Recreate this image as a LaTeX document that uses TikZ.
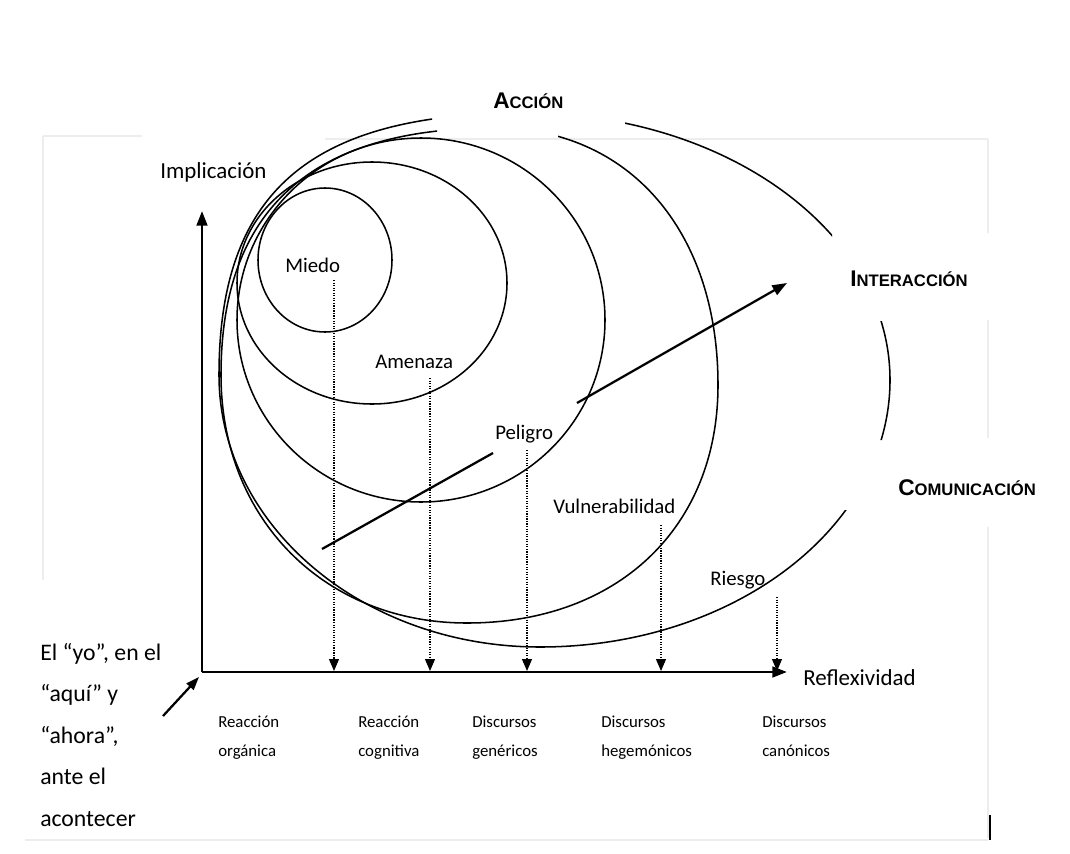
\documentclass[tikz,border=0pt]{standalone}
\usepackage{fontspec}
\setmainfont{Carlito}
\newfontfamily\arialfont{Liberation Sans}
\usetikzlibrary{arrows.meta}
\begin{document}
\begin{tikzpicture}[x=0.75pt,y=-0.75pt,
  curve/.style={line width=1.15pt},
  axisline/.style={line width=2pt,-{Triangle[length=11pt,width=8pt]}},
  dropline/.style={line width=0.9pt,densely dotted,-{Triangle[length=9pt,width=7.5pt]}},
  trend/.style={line width=1.7pt},
  framefaint/.style={line width=1.4pt,black!7},
  lab/.style={inner sep=0pt,anchor=base west,font=\fontsize{15.6}{18}\selectfont},
  biglab/.style={inner sep=0pt,anchor=base west,font=\fontsize{17.2}{20}\selectfont},
  smalllab/.style={inner sep=0pt,anchor=base west,font=\fontsize{12.6}{15}\selectfont},
  sidelab/.style={inner sep=0pt,anchor=base west,font=\fontsize{17.8}{20}\selectfont},
  capslab/.style={inner sep=0pt,anchor=base west,font=\arialfont\bfseries}
]
\useasboundingbox (0,0) rectangle (1070,853);

% faint frame of the original screenshot
\draw[framefaint] (43,136) -- (142,136);
\draw[framefaint] (325,139) -- (988,139);
\draw[framefaint] (43,136) -- (43,580);
\draw[framefaint] (988,139) -- (988,233);
\draw[framefaint] (988,320) -- (988,438);
\draw[framefaint] (988,527) -- (988,838);
\draw[framefaint] (25,840) -- (988,840);
\draw[line width=1.4pt] (990,815) -- (990,840);

% nested regions
\draw[curve] (325,260) ellipse [x radius=67, y radius=72];
\draw[curve] (372,283) ellipse [x radius=135, y radius=121];
\draw[curve] (421,320) ellipse [x radius=184, y radius=182];

% Vulnerabilidad (open at the top)
\coordinate (VL) at (221,375);
\coordinate (VT) at (495,128);
\coordinate (VR) at (718,385);
\coordinate (VB) at (467,623);
\begin{scope}[even odd rule]
  \clip (0,0) rectangle (1070,853) (558,90) rectangle (437,150);
  \draw[curve] (VL) .. controls (221,209.5) and (311.4,128) .. (VT)
                    .. controls (628.8,128) and (718,230.8) .. (VR)
                    .. controls (718,527.8) and (617.6,623) .. (VB)
                    .. controls (324.3,623) and (221,518.8) .. (VL);
\end{scope}

% Riesgo (broken by the three outer labels)
\coordinate (RL) at (219,375);
\coordinate (RT) at (525,113);
\coordinate (RR) at (890,380);
\coordinate (RB) at (540,647);
\begin{scope}[even odd rule]
  \clip (0,0) rectangle (1070,853) (625,60) rectangle (432,127)
        (1000,231) rectangle (832,321) (1000,440) rectangle (842,510);
  \draw[curve] (RL) .. controls (219,191.6) and (310.8,113) .. (RT)
                    .. controls (726.6,113) and (890,232.5) .. (RR)
                    .. controls (890,527.5) and (733.3,647) .. (RB)
                    .. controls (362.7,647) and (219,525.2) .. (RL);
\end{scope}

% axes
\coordinate (O) at (202,672);
\coordinate (ytip) at (202,211);
\coordinate (xtip) at (787,672);
\draw[axisline] (O) -- (ytip);
\draw[axisline] (O) -- (xtip);

% dotted projections
\coordinate (sM) at (334,280);  \coordinate (eM) at (334,671);
\coordinate (sA) at (430,378);  \coordinate (eA) at (430,671);
\coordinate (sP) at (527,450);  \coordinate (eP) at (527,671);
\coordinate (sV) at (661,525);  \coordinate (eV) at (661,671);
\coordinate (sR) at (777,597);  \coordinate (eR) at (777,671);
\draw[dropline] (sM) -- (eM);
\draw[dropline] (sA) -- (eA);
\draw[dropline] (sP) -- (eP);
\draw[dropline] (sV) -- (eV);
\draw[dropline] (sR) -- (eR);

% trend arrow, interrupted by "Peligro"
\coordinate (t1) at (322,549);
\coordinate (t2) at (493,453);
\coordinate (t3) at (577,403);
\coordinate (t4) at (787,283);
\draw[trend] (t1) -- (t2);
\draw[trend,-{Triangle[length=11pt,width=8pt]}] (t3) -- (t4);

% arrow to the origin
\coordinate (yo) at (163,716);
\coordinate (yotip) at (199,677);
\draw[line width=1.7pt,-{Triangle[length=10pt,width=7pt]}] (yo) -- (yotip);

% labels
\node[biglab] (impl) at (160,178) {Implicación};
\node[lab] (miedo) at (285,272) {Miedo};
\node[lab] (amen) at (375,368) {Amenaza};
\node[lab] (peli) at (495,439) {Peligro};
\node[lab] (vuln) at (553,513) {Vulnerabilidad};
\node[lab] (ries) at (710,585) {Riesgo};
\node[biglab] (refl) at (803,685) {Reflexividad};

\node[capslab] (acc) at (493,108) {\fontsize{17}{17}\selectfont A\fontsize{12.5}{12.5}\selectfont CCIÓN};
\node[capslab] (inter) at (850,286) {\fontsize{17}{17}\selectfont I\fontsize{12.5}{12.5}\selectfont NTERACCIÓN};
\node[capslab] (comu) at (898,495) {\fontsize{17}{17}\selectfont C\fontsize{12.5}{12.5}\selectfont OMUNICACIÓN};

\node[sidelab] (y1) at (40,660) {El “yo”, en el};
\node[sidelab] (y2) at (40,701) {“aquí” y};
\node[sidelab] (y3) at (40,743) {“ahora”,};
\node[sidelab] (y4) at (40,784) {ante el};
\node[sidelab] (y5) at (40,826) {acontecer};

\node[smalllab] (b1a) at (218,727) {Reacción};
\node[smalllab] (b1b) at (218,756) {orgánica};
\node[smalllab] (b2a) at (358,727) {Reacción};
\node[smalllab] (b2b) at (358,756) {cognitiva};
\node[smalllab] (b3a) at (472,727) {Discursos};
\node[smalllab] (b3b) at (472,756) {genéricos};
\node[smalllab] (b4a) at (601,727) {Discursos};
\node[smalllab] (b4b) at (601,756) {hegemónicos};
\node[smalllab] (b5a) at (762,727) {Discursos};
\node[smalllab] (b5b) at (762,756) {canónicos};
\end{tikzpicture}
\end{document}
